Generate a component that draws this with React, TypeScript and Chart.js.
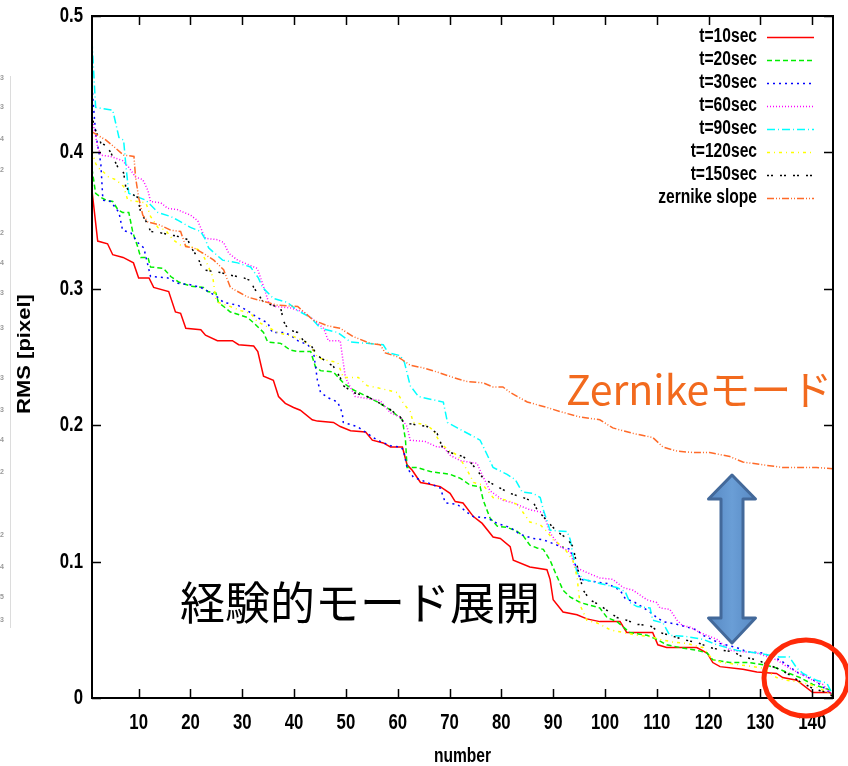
import React, { useEffect, useRef } from "react";
import { Chart, registerables } from "chart.js";
Chart.register(...registerables);

// ---------- data ----------
const xTicks = [10, 20, 30, 40, 50, 60, 70, 80, 90, 100, 110, 120, 130, 140];
const yTicks = [0, 0.1, 0.2, 0.3, 0.4, 0.5];
const yTickLabels = ["0", "0.1", "0.2", "0.3", "0.4", "0.5"];
const seriesLabels = ["t=10sec", "t=20sec", "t=30sec", "t=60sec", "t=90sec", "t=120sec", "t=150sec", "zernike slope"];

const t10: number[][] = [[1,0.372],[2.1,0.335],[4,0.333],[5,0.325],[7,0.323],[9,0.319],[10,0.308],[12,0.308],[12.9,0.301],[15.8,0.298],[17.1,0.283],[18.1,0.282],[19.1,0.271],[22,0.270],[22.9,0.266],[25.2,0.262],[28.1,0.262],[29.3,0.259],[32.2,0.258],[33,0.254],[34.1,0.236],[36,0.233],[37,0.221],[38.3,0.216],[39.9,0.213],[41.2,0.211],[43.5,0.204],[44.5,0.203],[47.6,0.202],[48.9,0.199],[50.9,0.196],[53.8,0.195],[55.1,0.189],[57.2,0.187],[58.6,0.184],[60.9,0.184],[61.8,0.171],[62.8,0.167],[64.4,0.158],[65.7,0.157],[68.2,0.155],[70.1,0.150],[71.1,0.144],[72.6,0.143],[74.6,0.133],[76.3,0.128],[78.4,0.118],[79.8,0.117],[81.7,0.111],[82.3,0.101],[85.5,0.096],[88.8,0.094],[89.4,0.087],[90,0.072],[91.9,0.063],[94.6,0.061],[96.5,0.058],[99,0.056],[102.9,0.056],[104.2,0.048],[109.2,0.048],[110.2,0.039],[111.9,0.037],[117.7,0.037],[119.7,0.033],[120.8,0.026],[122.2,0.023],[126.6,0.021],[129.3,0.019],[133.1,0.018],[134.3,0.015],[137,0.013],[140.1,0.004],[143.4,0.004],[144,0.001]];

const t20: number[][] = [[1,0.388],[1.7,0.370],[2.7,0.367],[3.7,0.365],[5,0.364],[6,0.358],[6.9,0.356],[8.1,0.356],[8.9,0.341],[9.8,0.331],[10.4,0.323],[11.8,0.323],[12.3,0.316],[14.8,0.315],[16.2,0.309],[17.7,0.305],[20,0.302],[22.5,0.301],[23.3,0.298],[24.9,0.297],[25.4,0.290],[26.4,0.287],[27.7,0.283],[31,0.279],[32.2,0.275],[34.1,0.268],[34.9,0.261],[37.4,0.260],[39.3,0.255],[40.7,0.254],[43.2,0.254],[44.1,0.243],[45.1,0.240],[47.6,0.239],[49.5,0.231],[51.4,0.226],[54.1,0.221],[56.6,0.216],[58.6,0.211],[60.9,0.204],[61.5,0.189],[61.8,0.169],[63.8,0.169],[66.3,0.166],[70.1,0.164],[72.1,0.161],[74,0.156],[75.9,0.155],[76.5,0.145],[77.8,0.132],[79.2,0.126],[81.1,0.125],[82.7,0.123],[84.2,0.119],[85.5,0.112],[86.9,0.110],[88.1,0.109],[89.4,0.101],[90.4,0.092],[91.9,0.079],[93.3,0.074],[95.2,0.070],[97.1,0.068],[99,0.066],[100.4,0.059],[102.3,0.056],[104.8,0.048],[108.1,0.046],[110,0.043],[111.9,0.039],[114.5,0.037],[117.7,0.035],[119.7,0.033],[120.8,0.028],[124.1,0.026],[127.9,0.026],[131.2,0.024],[133.1,0.022],[135.6,0.018],[137.6,0.015],[140.1,0.010],[143.4,0.006],[144,0.002]];

const t30: number[][] = [[1,0.448],[1.7,0.414],[2.7,0.392],[3.1,0.365],[4.6,0.364],[6.2,0.356],[6.9,0.343],[8.5,0.341],[9.8,0.334],[11,0.330],[11.8,0.317],[12.3,0.309],[15.6,0.308],[17.5,0.304],[20,0.303],[22,0.301],[23.9,0.297],[25.2,0.294],[26.4,0.290],[29.1,0.288],[31,0.284],[32.9,0.279],[34.9,0.275],[35.8,0.268],[38,0.268],[39.3,0.266],[40.7,0.262],[42.6,0.259],[43.7,0.255],[44.5,0.233],[45.1,0.224],[46.6,0.220],[48.4,0.217],[49.3,0.209],[49.5,0.202],[52.2,0.199],[54.1,0.194],[56.1,0.189],[58.6,0.185],[60.5,0.184],[61.1,0.182],[61.8,0.169],[63,0.162],[65.7,0.158],[68.2,0.154],[69.2,0.143],[71.5,0.142],[73.4,0.136],[74.6,0.133],[77.3,0.132],[79.2,0.128],[81.7,0.125],[83.6,0.120],[86.1,0.117],[88.1,0.116],[90.8,0.112],[93.3,0.109],[94.6,0.094],[95.2,0.087],[98.5,0.085],[100.4,0.084],[101.9,0.081],[102.9,0.079],[103.9,0.073],[105.8,0.070],[108.7,0.063],[110,0.059],[111.2,0.056],[113.9,0.054],[115.8,0.052],[117.7,0.050],[118.9,0.046],[122.2,0.040],[125.4,0.037],[127.4,0.034],[130.4,0.033],[133.7,0.028],[135.6,0.023],[137,0.019],[138.2,0.017],[140.8,0.012],[144,0.002]];

const t60: number[][] = [[1,0.425],[2.1,0.404],[2.7,0.398],[4.6,0.397],[6.9,0.394],[8.1,0.389],[9.4,0.382],[10.8,0.380],[11.8,0.372],[12.3,0.364],[14.3,0.363],[15.6,0.359],[17.5,0.358],[18.7,0.356],[20,0.354],[21.4,0.350],[22.4,0.341],[22.9,0.337],[25.2,0.336],[26.4,0.334],[27.4,0.326],[29.1,0.321],[31.6,0.317],[32.9,0.315],[33.9,0.304],[35.1,0.290],[36.4,0.287],[39.3,0.286],[41.8,0.283],[43.2,0.279],[45.7,0.271],[46.6,0.262],[48.9,0.262],[49.9,0.235],[51.8,0.221],[56.6,0.218],[58.6,0.209],[60.5,0.206],[61.8,0.199],[62.4,0.189],[65.3,0.188],[67.6,0.184],[68.8,0.184],[70.1,0.178],[72.1,0.174],[75.3,0.172],[76.5,0.162],[77.8,0.152],[80.3,0.145],[82.3,0.143],[85.5,0.138],[88.1,0.136],[89.4,0.121],[91.3,0.111],[93.3,0.107],[94.2,0.096],[96.5,0.092],[99,0.088],[101.5,0.087],[103.5,0.081],[105.4,0.079],[108.1,0.072],[110,0.070],[110.6,0.066],[112.5,0.065],[113.9,0.057],[115,0.053],[116.4,0.052],[118.3,0.048],[121.6,0.043],[124.1,0.035],[126.6,0.034],[129.3,0.033],[133.1,0.028],[135.1,0.023],[137.6,0.018],[140.1,0.013],[142,0.010],[144,0.002]];

const t90: number[][] = [[1,0.482],[1.7,0.433],[5,0.431],[6.2,0.411],[7.1,0.409],[7.5,0.392],[8.1,0.370],[10,0.367],[11.4,0.365],[12.7,0.360],[13.7,0.356],[16.2,0.353],[17.7,0.350],[20,0.345],[22,0.342],[22.9,0.336],[23.5,0.330],[26.2,0.321],[29.1,0.319],[31.6,0.316],[33.1,0.308],[33.9,0.301],[36,0.293],[38.7,0.290],[40.7,0.284],[43.2,0.279],[45.1,0.271],[48.4,0.268],[50.9,0.261],[54.1,0.260],[57.2,0.259],[58.2,0.253],[60.5,0.251],[61.3,0.246],[62.4,0.229],[64,0.221],[68.8,0.217],[69.6,0.202],[71.5,0.198],[74,0.193],[75.9,0.189],[77.3,0.178],[78.4,0.169],[81.1,0.164],[82.7,0.160],[84,0.151],[86.1,0.150],[87.5,0.147],[88.1,0.138],[89.4,0.123],[92.7,0.122],[93.3,0.116],[93.8,0.105],[94.6,0.092],[95.8,0.087],[99,0.084],[102.3,0.081],[103.9,0.078],[104.8,0.070],[106.2,0.067],[108.7,0.066],[109.2,0.057],[111.2,0.055],[112.5,0.046],[115.8,0.045],[118.9,0.043],[121.6,0.039],[123.5,0.037],[125.4,0.035],[129.3,0.033],[133.7,0.030],[135.6,0.030],[137,0.022],[138.2,0.018],[140.8,0.013],[142.8,0.011],[144,0.002]];

const t120: number[][] = [[1,0.401],[1.7,0.392],[2.1,0.389],[3.1,0.386],[4.2,0.382],[5.6,0.380],[7.1,0.375],[7.9,0.365],[9.8,0.364],[11.4,0.363],[12.3,0.353],[13.7,0.345],[15.2,0.343],[16.6,0.336],[18.1,0.332],[20,0.331],[22,0.328],[22.9,0.321],[24.3,0.309],[24.9,0.292],[25.4,0.290],[27.7,0.287],[29.7,0.284],[31.6,0.282],[32.9,0.276],[34.9,0.272],[36.8,0.268],[39.9,0.265],[41.8,0.262],[43.2,0.258],[44.5,0.250],[45.7,0.248],[48.4,0.246],[49.5,0.235],[52.4,0.235],[54.1,0.229],[56.6,0.227],[59.9,0.224],[61.1,0.216],[62.4,0.210],[63,0.202],[65.7,0.200],[66.9,0.196],[68.2,0.187],[69.7,0.182],[71.5,0.178],[72.6,0.172],[74,0.163],[74.6,0.158],[76.5,0.156],[78.4,0.147],[81.1,0.145],[83,0.142],[84.2,0.136],[85.5,0.129],[87.5,0.127],[88.8,0.122],[90,0.116],[91.9,0.111],[93.8,0.101],[94.6,0.089],[95.2,0.068],[96.5,0.057],[98.5,0.055],[101,0.050],[103.5,0.048],[106.2,0.046],[108.7,0.045],[110.6,0.043],[113.1,0.041],[115.8,0.040],[118.9,0.037],[120.8,0.028],[122.7,0.026],[126.6,0.024],[130.4,0.022],[133.1,0.015],[135.1,0.013],[137,0.012],[139.5,0.010],[142,0.006],[144,0.002]];

const t150: number[][] = [[1,0.426],[1.7,0.416],[2.7,0.407],[3.7,0.405],[4.6,0.400],[6,0.389],[7.1,0.385],[7.5,0.375],[8.5,0.370],[9.8,0.367],[10.4,0.356],[11.8,0.347],[12.3,0.342],[14.3,0.341],[16.8,0.339],[18.1,0.338],[19.5,0.336],[20,0.331],[21.4,0.323],[22.4,0.314],[23.9,0.313],[25.8,0.312],[27.7,0.310],[30.3,0.308],[31.6,0.306],[32.2,0.301],[32.9,0.297],[34.1,0.290],[35.8,0.288],[37.4,0.286],[38,0.276],[38.9,0.270],[40.7,0.268],[41.8,0.262],[43.2,0.259],[44.5,0.251],[45.7,0.248],[47.6,0.243],[48.9,0.235],[49.5,0.229],[51.4,0.224],[54.1,0.221],[56.1,0.217],[58,0.213],[60.5,0.206],[61.1,0.202],[62.4,0.201],[65.7,0.199],[67.6,0.194],[68.8,0.182],[70.1,0.180],[72.6,0.177],[74,0.173],[75.3,0.167],[76.5,0.161],[77.8,0.158],[79.2,0.155],[81.7,0.150],[84.2,0.147],[86.1,0.144],[86.9,0.138],[88.8,0.130],[90.7,0.122],[92.7,0.117],[93.8,0.111],[94.8,0.094],[95.8,0.079],[97.1,0.072],[99,0.068],[102.3,0.059],[104.2,0.057],[106.2,0.054],[108.7,0.053],[110.6,0.048],[112.5,0.046],[115,0.043],[118.3,0.040],[120.2,0.037],[122.7,0.035],[124.7,0.034],[126.6,0.030],[129.3,0.028],[131.8,0.024],[133.7,0.021],[135.6,0.017],[137.6,0.012],[140.1,0.007],[142.8,0.004],[144,0.001]];

const zernike: number[][] = [[1,0.415],[3.7,0.409],[5.6,0.403],[7.1,0.398],[9.1,0.397],[9.4,0.382],[10,0.367],[10.8,0.354],[11.8,0.349],[13.9,0.347],[16.2,0.343],[18.1,0.342],[19.1,0.331],[20.6,0.330],[22.5,0.326],[24.5,0.321],[26.4,0.314],[27.7,0.301],[31,0.294],[32.9,0.292],[36.8,0.288],[40.7,0.287],[43.7,0.277],[46.4,0.273],[48.9,0.271],[51.4,0.265],[54.7,0.260],[56.6,0.259],[57.6,0.253],[60.1,0.250],[62.4,0.244],[64.9,0.242],[67.6,0.239],[70.7,0.235],[73.4,0.232],[76.5,0.231],[78.4,0.228],[80.3,0.228],[81.7,0.224],[85,0.217],[88.8,0.213],[91.3,0.210],[95.2,0.206],[99,0.204],[101.5,0.198],[105.4,0.194],[109.2,0.191],[111.2,0.184],[113.9,0.181],[116.9,0.180],[120.2,0.180],[124.1,0.177],[126.6,0.173],[130.4,0.171],[134.3,0.169],[137,0.169],[140.8,0.169],[144,0.168]];

const seriesData = [t10, t20, t30, t60, t90, t120, t150, zernike];
const seriesColors = ["#ff0000", "#00ee00", "#0000ff", "#ff00ff", "#00ffff", "#ffff00", "#000000", "#ff6a28"];
const seriesDash = [[], [5, 3], [2, 4], [1, 2], [8, 3, 1, 3], [3, 4, 1, 4], [2, 2, 2, 7], [7, 2, 1, 2, 1, 2]];

const leftMarks = ["3", "3", "4", "2", "2", "4", "3", "3", "3", "3", "4", "2", "2", "4", "5", "3"];
const leftMarkY = [78, 107, 139, 170, 233, 263, 293, 328, 378, 410, 440, 472, 535, 567, 597, 620];

const SANS = "'Liberation Sans', Arial, Helvetica, sans-serif";
const CJK = "'Noto Sans CJK JP', 'Noto Sans', sans-serif";

function narrowText(c: CanvasRenderingContext2D, text: string, x: number, y: number, align: CanvasTextAlign, size: number, sx = 0.78) {
  c.save();
  c.translate(x, y);
  c.scale(sx, 1);
  c.font = `bold ${size}px ${SANS}`;
  c.textAlign = align;
  c.textBaseline = "middle";
  c.fillText(text, 0, 0);
  c.restore();
}

export default function App() {
  const ref = useRef<HTMLCanvasElement>(null);

  useEffect(() => {
    const canvas = ref.current!;
    const datasets = seriesData.map((d, i) => ({
      label: seriesLabels[i],
      data: d.map(([x, y]) => ({ x, y })),
      borderColor: seriesColors[i],
      backgroundColor: seriesColors[i],
      borderDash: seriesDash[i],
      borderWidth: 1.5,
      pointRadius: 0,
      fill: false,
      tension: 0,
      order: seriesData.length - i,
    }));

    const overlay = {
      id: "overlay",
      afterDraw(chart: any) {
        const c = chart.ctx as CanvasRenderingContext2D;
        const a = chart.chartArea;
        const xs = chart.scales.x;
        const ys = chart.scales.y;
        c.save();
        // left faint artifacts
        c.strokeStyle = "#dcdcdc";
        c.lineWidth = 1;
        c.beginPath();
        c.moveTo(10.5, 76);
        c.lineTo(10.5, 628);
        c.stroke();
        c.fillStyle = "#9a9a9a";
        c.font = "bold 7px 'Liberation Sans', sans-serif";
        c.textBaseline = "middle";
        c.textAlign = "left";
        leftMarks.forEach((m, i) => c.fillText(m, 0, leftMarkY[i]));

        // frame
        c.strokeStyle = "#000";
        c.lineWidth = 2;
        c.strokeRect(a.left, a.top, a.right - a.left, a.bottom - a.top);
        // ticks (inward, mirrored)
        c.lineWidth = 1.5;
        const tl = 9;
        c.beginPath();
        xTicks.forEach((v) => {
          const px = Math.round(xs.getPixelForValue(v)) + 0.5;
          c.moveTo(px, a.bottom);
          c.lineTo(px, a.bottom - tl);
          c.moveTo(px, a.top);
          c.lineTo(px, a.top + tl);
        });
        yTicks.forEach((v) => {
          const py = Math.round(ys.getPixelForValue(v)) + 0.5;
          c.moveTo(a.left, py);
          c.lineTo(a.left + tl, py);
          c.moveTo(a.right, py);
          c.lineTo(a.right - tl, py);
        });
        c.stroke();

        // tick labels (positioned by the chart's scales)
        c.fillStyle = "#000";
        xTicks.forEach((v) => narrowText(c, String(v), xs.getPixelForValue(v), 723, "center", 21.5));
        yTicks.forEach((v, i) => narrowText(c, yTickLabels[i], 83, ys.getPixelForValue(v), "right", 21.5));

        // axis titles
        narrowText(c, "number", (a.left + a.right) / 2, 757, "center", 19.5, 0.8);
        c.save();
        c.translate(25, 354);
        c.rotate(-Math.PI / 2);
        c.scale(1, 0.8);
        c.font = `bold 22px ${SANS}`;
        c.textAlign = "center";
        c.textBaseline = "middle";
        c.fillText("RMS [pixel]", 0, 0);
        c.restore();

        // legend
        chart.data.datasets.forEach((ds: any, i: number) => {
          const y = 37 + i * 23;
          c.fillStyle = "#000";
          narrowText(c, ds.label, 757, y, "right", 19.5, 0.8);
          c.strokeStyle = ds.borderColor;
          c.lineWidth = 1.5;
          c.setLineDash(ds.borderDash);
          c.beginPath();
          c.moveTo(767, y + 0.5);
          c.lineTo(814, y + 0.5);
          c.stroke();
          c.setLineDash([]);
        });

        // annotations
        c.textAlign = "left";
        c.textBaseline = "alphabetic";
        c.fillStyle = "#f26a1e";
        c.font = `41px ${CJK}`;
        c.fillText("Zernikeモード", 566, 405);
        c.fillStyle = "#000";
        c.font = `45px ${CJK}`;
        c.fillText("経験的モード展開", 180, 620);

        // double arrow
        const cx = 732;
        c.beginPath();
        c.moveTo(cx, 475);
        c.lineTo(cx + 23.5, 499);
        c.lineTo(cx + 11, 499);
        c.lineTo(cx + 11, 618);
        c.lineTo(cx + 23.5, 618);
        c.lineTo(cx, 643);
        c.lineTo(cx - 23.5, 618);
        c.lineTo(cx - 11, 618);
        c.lineTo(cx - 11, 499);
        c.lineTo(cx - 23.5, 499);
        c.closePath();
        const g = c.createLinearGradient(cx - 20, 0, cx + 20, 0);
        g.addColorStop(0, "#5a8cc6");
        g.addColorStop(0.5, "#6a9ed6");
        g.addColorStop(1, "#5a8cc6");
        c.fillStyle = g;
        c.fill();
        c.strokeStyle = "#43699a";
        c.lineWidth = 3;
        c.lineJoin = "round";
        c.stroke();

        // red ellipse
        c.beginPath();
        c.ellipse(806, 678, 42, 38, 0, 0, Math.PI * 2);
        c.strokeStyle = "#ff2a08";
        c.lineWidth = 5;
        c.stroke();
        c.restore();
      },
    };

    const chart = new Chart(canvas, {
      type: "line",
      data: { datasets },
      options: {
        animation: false,
        responsive: false,
        layout: { padding: { left: 0, top: 16, right: 15, bottom: 0 } },
        plugins: { legend: { display: false }, tooltip: { enabled: false } },
        scales: {
          x: {
            type: "linear",
            min: 1,
            max: 144,
            grid: { display: false },
            border: { display: false },
            afterBuildTicks: (s: any) => {
              s.ticks = xTicks.map((v) => ({ value: v }));
            },
            afterFit: (s: any) => {
              s.height = 68;
            },
            ticks: { display: false },
          },
          y: {
            type: "linear",
            min: 0,
            max: 0.5,
            grid: { display: false },
            border: { display: false },
            afterBuildTicks: (s: any) => {
              s.ticks = yTicks.map((v) => ({ value: v }));
            },
            afterFit: (s: any) => {
              s.width = 92;
            },
            ticks: { display: false },
          },
        },
      } as any,
      plugins: [overlay],
    });
    return () => chart.destroy();
  }, []);

  return (
    <div style={{ position: "absolute", left: 0, top: 0, width: 848, height: 766, background: "#fff" }}>
      <canvas ref={ref} width={848} height={766} style={{ display: "block" }} />
    </div>
  );
}
